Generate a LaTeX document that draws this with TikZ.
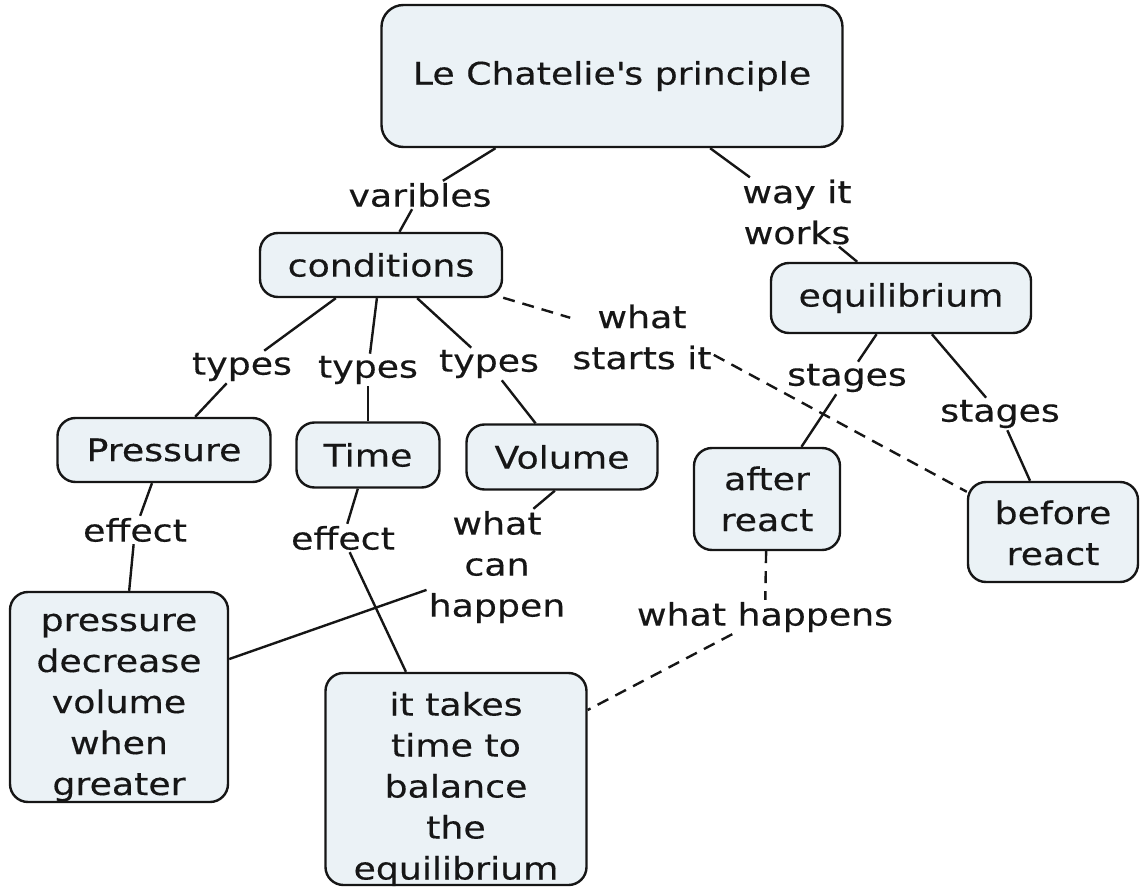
\documentclass[tikz,border=0pt]{standalone}
\usepackage{fontspec}
\setmainfont{DejaVu Sans}[FakeStretch=1.17, FakeBold=0.35]
\begin{document}
\definecolor{boxfill}{RGB}{235,242,246}
\definecolor{ink}{RGB}{22,22,22}
\begin{tikzpicture}[x=1pt,y=-1pt,
  font=\fontsize{31}{41}\selectfont,
  concept/.style={draw=ink, line width=2.4pt, fill=boxfill, rounded corners=18pt,
    inner sep=0pt, align=center, text=ink},
  link/.style={inner sep=2pt, align=center, text=ink},
  conn/.style={draw=ink, line width=2.4pt},
  dconn/.style={conn, dash pattern=on 12pt off 8pt}]
\useasboundingbox (0,0) rectangle (1141,888);

% concepts
\node[concept, minimum width=461pt, minimum height=142pt, rounded corners=22pt] (principle) at (612,76) {Le Chatelie\textquotesingle s principle};
\node[concept, minimum width=242pt, minimum height=64pt] (conditions) at (381,265) {conditions};
\node[concept, minimum width=260pt, minimum height=70pt] (equilibrium) at (901,298) {equilibrium};
\node[concept, minimum width=213pt, minimum height=64pt] (pressure) at (164,450) {Pressure};
\node[concept, minimum width=143pt, minimum height=65pt] (time) at (368,455) {Time};
\node[concept, minimum width=191pt, minimum height=65pt] (volume) at (562,457) {Volume};
% multi-line concepts: text height/depth place the last baseline inside the box
\node[concept, minimum width=146pt, minimum height=102pt, text height=64pt, text depth=0pt] (after) at (767,499) {after\\react};
\node[concept, minimum width=170pt, minimum height=100pt, text height=66pt, text depth=0pt] (before) at (1053,532) {before\\react};
\node[concept, minimum width=218pt, minimum height=210pt, text height=196pt, text depth=0pt] (decrease) at (119,697) {pressure\\decrease\\volume\\when\\greater};
\node[concept, minimum width=261pt, minimum height=212pt, text height=201pt, text depth=0pt] (takes) at (456,779) {it takes\\time to\\balance\\the\\equilibrium};

% linking phrases
\node[link] (varibles) at (420,195) {varibles};
\node[link] (works) at (797,212) {way it\\works};
\node[link] (types1) at (242,367) {types};
\node[link] (types2) at (368,370) {types};
\node[link] (types3) at (489,364) {types};
\node[link] (starts) at (642,337) {what\\starts it};
\node[link] (stages1) at (847,378) {stages};
\node[link] (stages2) at (1000,414) {stages};
\node[link] (effect1) at (135,530) {effect};
\node[link] (effect2) at (343,538) {effect};
\node[link] (canhappen) at (497,567) {what\\can\\happen};
\node[link] (happens) at (765,617) {what happens};

% solid connectors
\draw[conn] (principle) -- (varibles);
\draw[conn] (varibles) -- (conditions);
\draw[conn] (principle) -- (works);
\draw[conn] (works) -- (equilibrium);
\draw[conn] (conditions) -- (types1);
\draw[conn] (types1) -- (pressure);
\draw[conn] (conditions) -- (types2);
\draw[conn] (types2) -- (time);
\draw[conn] (conditions) -- (types3);
\draw[conn] (types3) -- (volume);
\draw[conn] (equilibrium) -- (stages1);
\draw[conn] (stages1) -- (after);
\draw[conn] (equilibrium) -- (stages2);
\draw[conn] (stages2) -- (before);
\draw[conn] (pressure) -- (effect1);
\draw[conn] (effect1) -- (decrease);
\draw[conn] (time) -- (effect2);
\draw[conn] (effect2) -- (takes);
\draw[conn] (volume.-102) -- (canhappen.58);
\draw[conn] (canhappen.-162) -- (decrease.19);

% dashed connectors
\draw[dconn] (conditions.-15) -- (starts.165);
\draw[dconn] (starts.-14) -- (before.155);
\draw[dconn] (after) -- (happens);
\draw[dconn] (happens) -- (takes);
\end{tikzpicture}
\end{document}
